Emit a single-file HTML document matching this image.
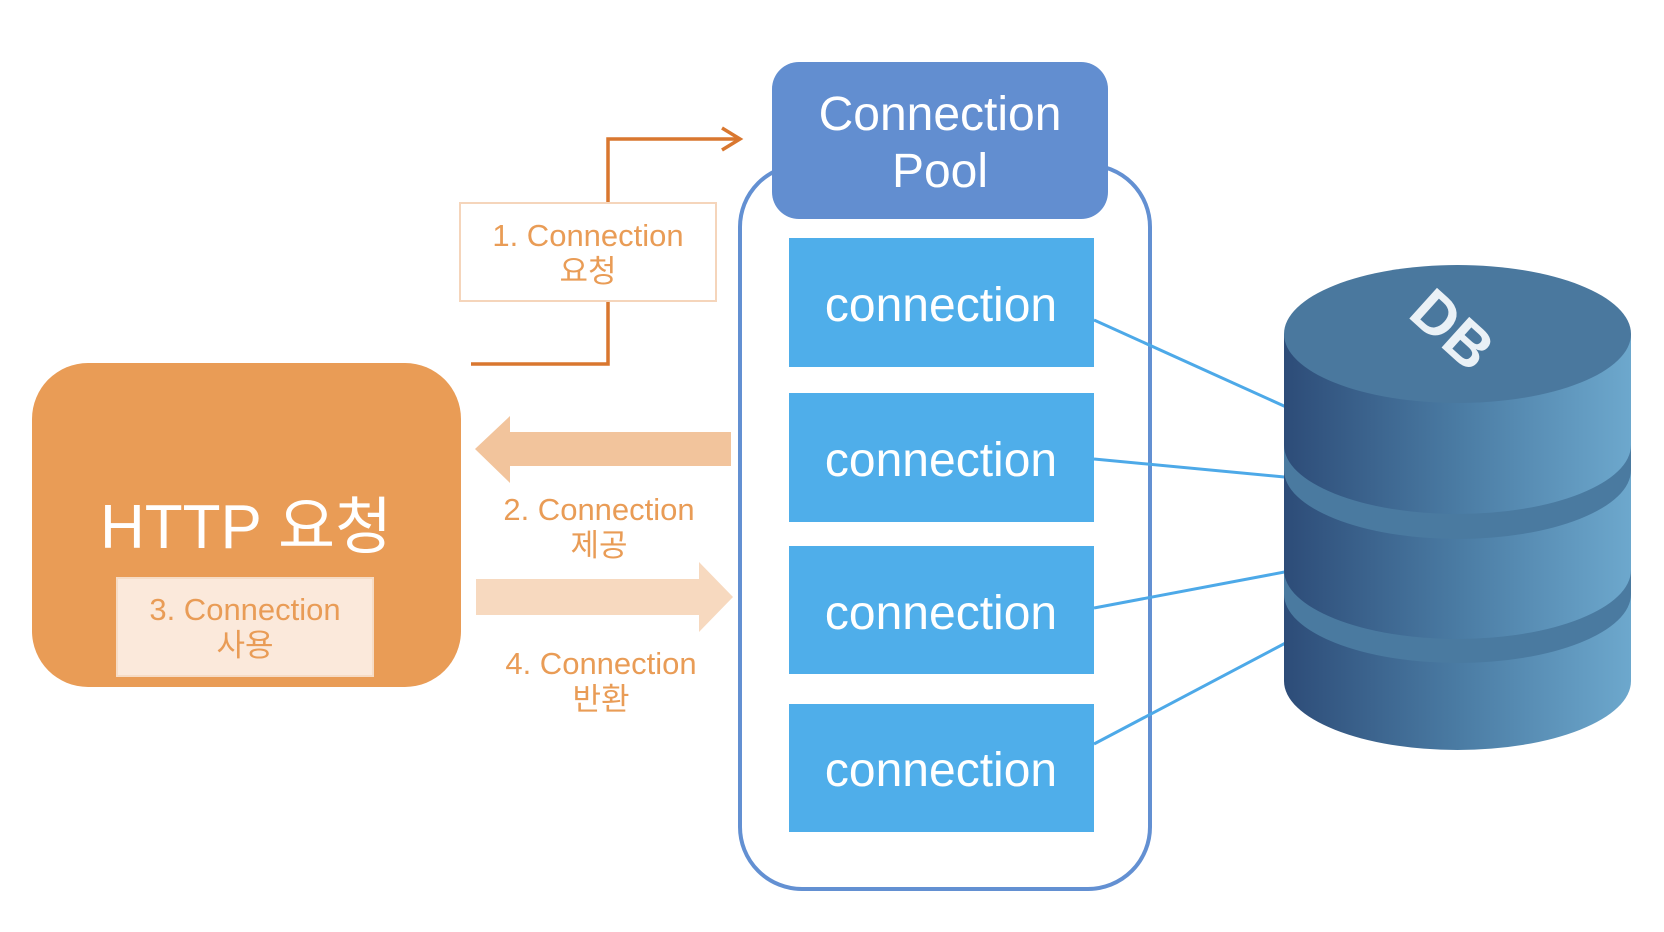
<!DOCTYPE html>
<html><head><meta charset="utf-8"><style>
html,body{margin:0;padding:0;background:#fff;width:1664px;height:932px;overflow:hidden}
svg{display:block}
text{font-family:"Liberation Sans","Noto Sans CJK KR",sans-serif}
</style></head><body>
<svg width="1664" height="932" viewBox="0 0 1664 932" xmlns="http://www.w3.org/2000/svg">
<defs>
<linearGradient id="cyl" x1="0" x2="1" y1="0" y2="0">
<stop offset="0" stop-color="#2D4C78"/><stop offset="0.5" stop-color="#4A7BA3"/><stop offset="1" stop-color="#6DA8CD"/>
</linearGradient>
</defs>
<g transform="translate(-5,0)">
<rect x="745" y="165" width="410" height="724" rx="62" fill="#fff" stroke="#6390D2" stroke-width="4"/>
<rect x="777" y="62" width="336" height="157" rx="27" fill="#628ED0"/>
<text x="945" y="130" font-size="48" fill="#fff" text-anchor="middle">Connection</text>
<text x="945" y="187" font-size="48" fill="#fff" text-anchor="middle">Pool</text>
<g fill="#4FAEEA">
<rect x="794" y="238" width="305" height="129"/>
<rect x="794" y="393" width="305" height="129"/>
<rect x="794" y="546" width="305" height="128"/>
<rect x="794" y="704" width="305" height="128"/>
</g>
<g font-size="48" fill="#fff" text-anchor="middle">
<text x="946" y="321">connection</text>
<text x="946" y="476">connection</text>
<text x="946" y="629">connection</text>
<text x="946" y="786">connection</text>
</g>
</g>
<!-- blue lines -->
<g stroke="#4DA9E8" stroke-width="3">
<line x1="1094" y1="320" x2="1295" y2="411"/>
<line x1="1094" y1="459" x2="1295" y2="478"/>
<line x1="1094" y1="608" x2="1295" y2="570"/>
<line x1="1094" y1="744" x2="1295" y2="638"/>
</g>
<!-- DB cylinder -->
<path d="M1284 334 L1284 681 A173.5 69 0 0 0 1631 681 L1631 334 Z" fill="url(#cyl)"/>
<path d="M1284 445 A173.5 69 0 0 0 1631 445 L1631 470 A173.5 69 0 0 1 1284 470 Z" fill="#4A7AA0"/>
<path d="M1284 570 A173.5 69 0 0 0 1631 570 L1631 594 A173.5 69 0 0 1 1284 594 Z" fill="#4A7AA0"/>
<ellipse cx="1457.5" cy="334" rx="173.5" ry="69" fill="#4A789E"/>
<text x="1452" y="350" font-size="60" font-weight="bold" fill="#EAF1F6" text-anchor="middle" transform="rotate(42 1452 330)">DB</text>
<!-- HTTP box -->
<rect x="32" y="363" width="429" height="324" rx="56" fill="#E99C56"/>
<text x="246" y="548" font-size="62" fill="#fff" text-anchor="middle">HTTP 요청</text>
<rect x="117" y="578" width="256" height="98" fill="#FBE9DB" stroke="#F6DCC6" stroke-width="2"/>
<text x="245" y="620" font-size="31" fill="#E99C56" text-anchor="middle">3. Connection</text>
<text x="245" y="656" font-size="31" fill="#E99C56" text-anchor="middle">사용</text>
<!-- connector 1 -->
<polyline points="471,364 608,364 608,139 738,139" fill="none" stroke="#D9772F" stroke-width="3.5"/>
<polyline points="722,128 740,139 722,150" fill="none" stroke="#D9772F" stroke-width="3.5"/>
<rect x="460" y="203" width="256" height="98" fill="#fff" stroke="#F5D5BB" stroke-width="2"/>
<text x="588" y="246" font-size="31" fill="#E99C56" text-anchor="middle">1. Connection</text>
<text x="588" y="282" font-size="31" fill="#E99C56" text-anchor="middle">요청</text>
<!-- arrows -->
<polygon points="731,432 510,432 510,416 475,449 510,483 510,466 731,466" fill="#F2C49C"/>
<polygon points="476,579 699,579 699,562 733,597 699,632 699,615 476,615" fill="#F7D9BF"/>
<g font-size="31" fill="#E99C56" text-anchor="middle">
<text x="599" y="520">2. Connection</text>
<text x="599" y="556">제공</text>
<text x="601" y="674">4. Connection</text>
<text x="601" y="710">반환</text>
</g>
</svg>
</body></html>
